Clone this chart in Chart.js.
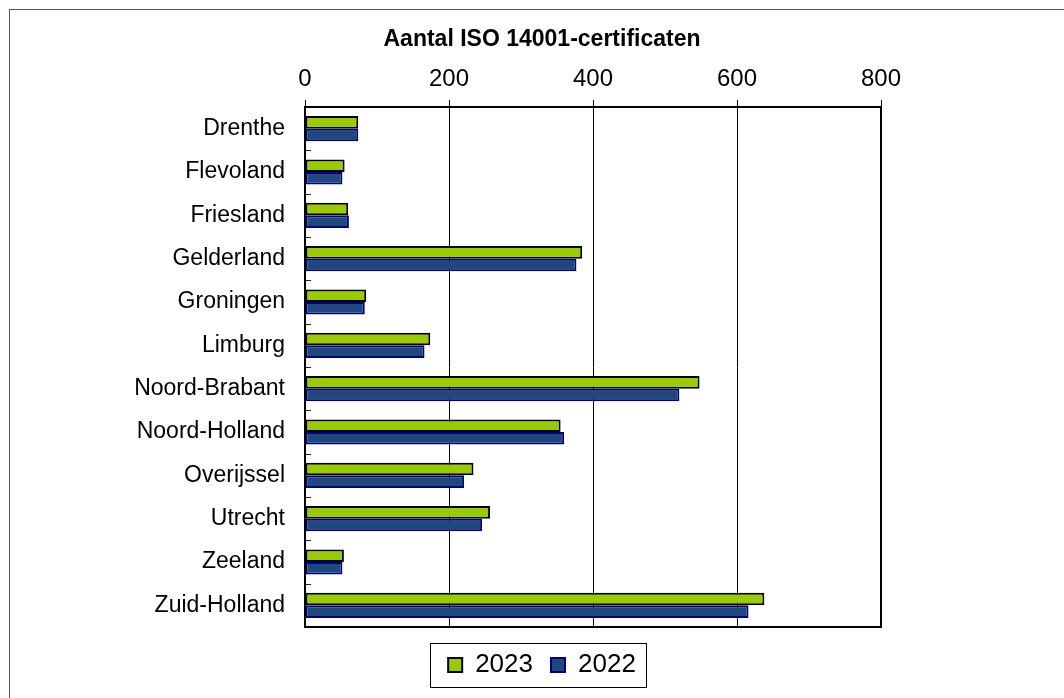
<!DOCTYPE html>
<html>
<head>
<meta charset="utf-8">
<script src="https://cdn.jsdelivr.net/npm/chart.js@4/dist/chart.umd.min.js"></script>
<style>
  html, body { margin: 0; padding: 0; background: #fff; overflow: hidden; }
  .frame { position: absolute; left: 9px; top: 9px; width: 1100px; height: 720px; border: 1px solid #555; }
  canvas { position: absolute; left: 0; top: 0; }
</style>
</head>
<body>
<div class="frame"></div>
<canvas id="chart" width="1084" height="698"></canvas>
<script>
const provinces = ["Drenthe", "Flevoland", "Friesland", "Gelderland", "Groningen", "Limburg",
  "Noord-Brabant", "Noord-Holland", "Overijssel", "Utrecht", "Zeeland", "Zuid-Holland"];
const certs2023 = [74, 55, 60, 385, 85, 174, 548, 355, 234, 257, 54, 638];
const certs2022 = [74, 52, 61, 377, 83, 166, 520, 360, 221, 246, 52, 616];
const xTicks = [0, 200, 400, 600, 800];

const font = "'Liberation Sans', Arial, sans-serif";

// kleine streepjes op de y-as tussen de categorieën, en kader om de legenda
const extras = {
  id: "extras",
  afterDraw(chart) {
    const ctx = chart.ctx;
    const a = chart.chartArea;
    const y = chart.scales.y;
    ctx.save();
    ctx.strokeStyle = "#222";
    ctx.lineWidth = 1;
    for (let i = 0; i < provinces.length - 1; i++) {
      const py = Math.round((y.getPixelForTick(i) + y.getPixelForTick(i + 1)) / 2) + 0.5;
      ctx.beginPath();
      ctx.moveTo(a.left, py);
      ctx.lineTo(a.left + 6, py);
      ctx.stroke();
    }
    // rand om het plotgebied
    ctx.strokeStyle = "#000";
    ctx.lineWidth = 2;
    ctx.strokeRect(a.left, a.top, a.right - a.left, a.bottom - a.top);
    // kader om de legenda
    const boxes = chart.legend.legendHitBoxes;
    if (boxes.length) {
      const last = boxes[boxes.length - 1];
      const x0 = boxes[0].left - 18;
      const x1 = last.left + last.width + 10;
      const cy = boxes[0].top + boxes[0].height / 2;
      ctx.lineWidth = 1;
      ctx.strokeRect(Math.round(x0) + 0.5, Math.round(cy - 22) + 0.5, Math.round(x1 - x0), 44);
    }
    ctx.restore();
  }
};

new Chart(document.getElementById("chart"), {
  type: "bar",
  data: {
    labels: provinces,
    datasets: [
      {
        label: "2023",
        data: certs2023,
        backgroundColor: "#99cc00",
        borderColor: "#000000",
        borderWidth: 2,
        borderSkipped: false,
      },
      {
        label: "2022",
        data: certs2022,
        backgroundColor: "#1f497d",
        borderColor: "#000080",
        borderWidth: 2,
        borderSkipped: false,
      },
    ],
  },
  options: {
    indexAxis: "y",
    responsive: false,
    animation: false,
    categoryPercentage: 0.58,
    barPercentage: 1,
    layout: { padding: { left: 0, right: 0, top: 20, bottom: 10 } },
    plugins: {
      title: {
        display: true,
        text: "Aantal ISO 14001-certificaten",
        color: "#000",
        font: { family: font, size: 23, weight: "bold" },
        padding: { top: 6, bottom: 0 },
      },
      legend: {
        position: "bottom",
        title: { display: true, text: "", font: { size: 1, lineHeight: 1 }, padding: { top: 6, bottom: 0 } },
        labels: {
          color: "#000",
          font: { family: font, size: 26 },
          boxWidth: 14,
          boxHeight: 14,
          padding: 18,
        },
      },
      tooltip: { enabled: false },
    },
    scales: {
      x: {
        position: "top",
        min: 0,
        max: 800,
        afterBuildTicks(scale) {
          scale.ticks = xTicks.map(v => ({ value: v }));
        },
        afterFit(scale) { scale.height = 53.4; },
        ticks: { color: "#000", font: { family: font, size: 24 }, padding: 6 },
        grid: { color: "#000", lineWidth: 1, tickLength: 7 },
        border: { color: "#000", width: 2 },
      },
      y: {
        afterFit(scale) { scale.width = 305; },
        ticks: { color: "#000", font: { family: font, size: 23 }, padding: 20 },
        grid: { display: false, drawTicks: false },
        border: { color: "#000", width: 2 },
      },
      // lege ruimte rechts zodat titel en legenda gecentreerd staan zoals in het origineel
      yRight: {
        type: "category",
        position: "right",
        afterFit(scale) { scale.width = 1084 - 881; },
        ticks: { display: false },
        grid: { display: false, drawTicks: false },
        border: { display: false },
      },
    },
  },
  plugins: [extras],
});
</script>
</body>
</html>
